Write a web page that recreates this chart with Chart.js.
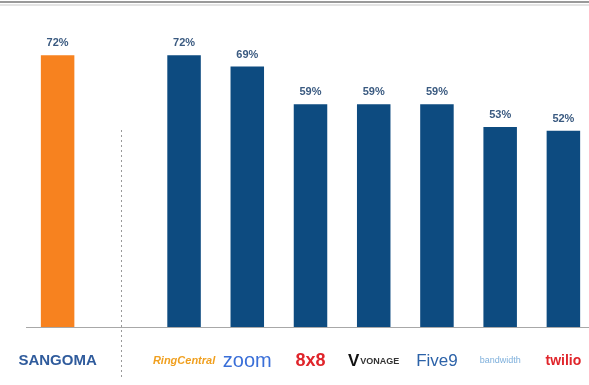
<!DOCTYPE html>
<html>
<head>
<meta charset="utf-8">
<script src="https://cdn.jsdelivr.net/npm/chart.js@4"></script>
<style>
  html, body { margin: 0; padding: 0; background: #fff; overflow: hidden; }
  #wrap { width: 595px; height: 385px; position: relative; }
</style>
</head>
<body>
<div id="wrap"><canvas id="barChart"></canvas></div>
<script>
// vendors along the x axis (empty slot = separator between Sangoma and the others)
var vendors = ["SANGOMA", "", "RingCentral", "zoom", "8x8", "VONAGE", "Five9", "bandwidth", "twilio"];
var shares = [72, null, 72, 69, 59, 59, 59, 53, 52];
var barColors = ["#f7821f", "#ffffff", "#0d4b80", "#0d4b80", "#0d4b80", "#0d4b80", "#0d4b80", "#0d4b80", "#0d4b80"];
var logoColors = ["#2f5b9c", "#000", "#f0a020", "#3a6fd8", "#e0252b", "#333333", "#2c62a8", "#7fb0dc", "#e0252b"];
var logoFonts = [
  "bold 15px Arial, Liberation Sans",
  "12px Arial",
  "italic bold 11px Arial, Liberation Sans",
  "20px Arial, Liberation Sans",
  "bold 18px Arial, Liberation Sans",
  "bold 9px Arial, Liberation Sans",
  "17px Arial, Liberation Sans",
  "9px Arial, Liberation Sans",
  "bold 14px Arial, Liberation Sans"
];

// value labels, logos, separator and top rule
var extras = {
  id: "extras",
  afterDatasetsDraw: function (chart) {
    var c = chart.ctx;
    var meta = chart.getDatasetMeta(0);
    var xs = chart.scales.x;
    c.save();
    c.font = "bold 11px Arial, Liberation Sans";
    c.fillStyle = "#3a5a80";
    c.textAlign = "center";
    c.textBaseline = "middle";
    meta.data.forEach(function (bar, i) {
      if (shares[i] == null) return;
      c.fillText(shares[i] + "%", bar.x, bar.y - 12);
    });
    // vendor names in place of logos
    vendors.forEach(function (name, i) {
      if (!name) return;
      var x = xs.getPixelForValue(i);
      c.font = logoFonts[i];
      c.fillStyle = logoColors[i];
      if (name === "VONAGE") {
        c.font = "bold 17px Arial, Liberation Sans";
        c.fillStyle = "#111";
        c.fillText("V", x - 20, 361);
        c.font = logoFonts[i];
        c.fillStyle = logoColors[i];
        c.fillText(name, x + 6, 362);
      } else {
        c.fillText(name, x, 361);
      }
    });
    // dotted separator
    var sx = xs.getPixelForValue(1);
    c.strokeStyle = "#999";
    c.lineWidth = 1;
    c.setLineDash([2, 3]);
    c.beginPath();
    c.moveTo(Math.round(sx) + 0.5, 130);
    c.lineTo(Math.round(sx) + 0.5, 380);
    c.stroke();
    c.setLineDash([]);
    // top rule with soft shadow
    c.strokeStyle = "#9a9a9a";
    c.lineWidth = 2;
    c.beginPath();
    c.moveTo(0, 2);
    c.lineTo(chart.width, 2);
    c.stroke();
    c.strokeStyle = "#e4e4e4";
    c.lineWidth = 2;
    c.beginPath();
    c.moveTo(0, 5);
    c.lineTo(chart.width, 5);
    c.stroke();
    c.restore();
  }
};

var ctx = document.getElementById("barChart").getContext("2d");
var chart = new Chart(ctx, {
  type: "bar",
  data: {
    labels: vendors,
    datasets: [
      {
        data: shares,
        backgroundColor: barColors,
        barPercentage: 0.53,
        categoryPercentage: 1
      }
    ]
  },
  options: {
    responsive: true,
    maintainAspectRatio: false,
    animation: false,
    layout: { padding: { left: 26, right: 0, top: 10, bottom: 58 } },
    plugins: {
      legend: { display: false },
      tooltip: { enabled: false }
    },
    scales: {
      x: {
        grid: { display: false, drawTicks: false },
        border: { color: "#a8a8a8", width: 1 },
        ticks: { display: false }
      },
      y: {
        display: false,
        min: 0,
        max: 84
      }
    }
  },
  plugins: [extras]
});
</script>
</body>
</html>
